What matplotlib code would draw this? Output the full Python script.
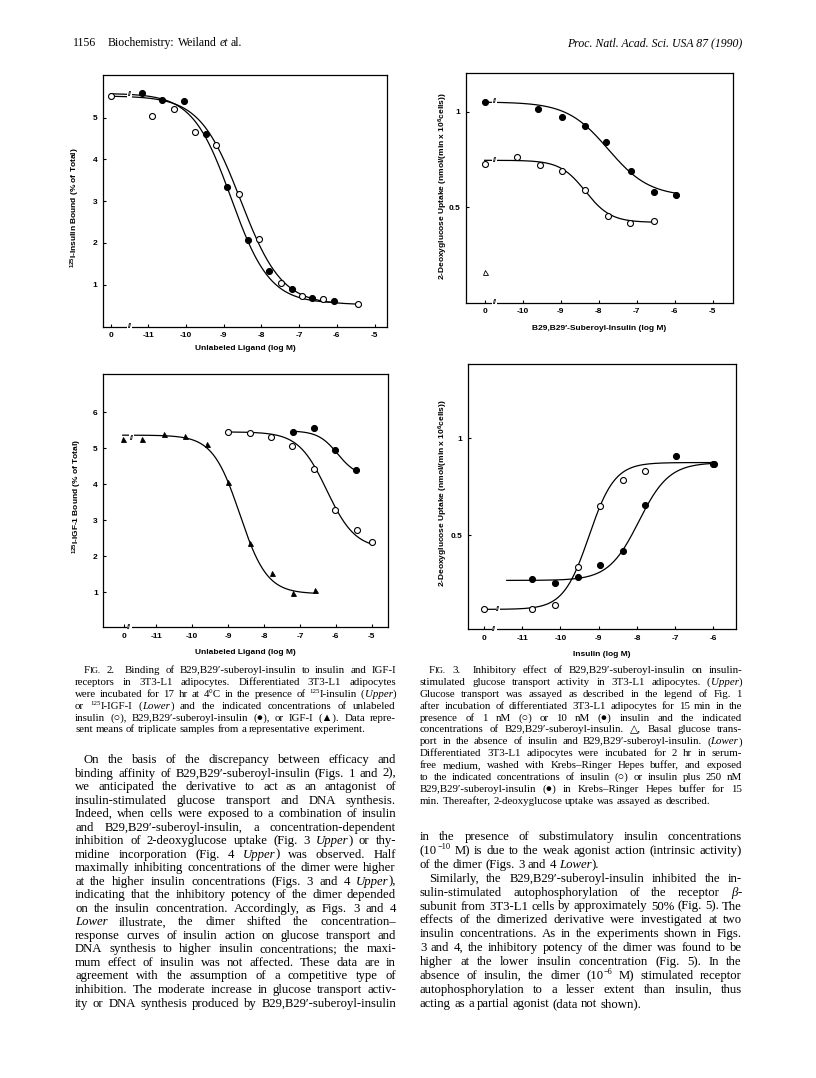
import numpy as np
import matplotlib
matplotlib.use("Agg")
import matplotlib.pyplot as plt

W, H = 816, 1078

plt.rcParams['font.family'] = ['Liberation Sans', 'DejaVu Sans']
plt.rcParams['mathtext.fontset'] = 'custom'
plt.rcParams['mathtext.rm'] = 'Liberation Sans:bold'
plt.rcParams['mathtext.it'] = 'Liberation Sans:bold'
plt.rcParams['mathtext.bf'] = 'Liberation Sans:bold'
SERIF = ['Liberation Serif', 'DejaVu Serif']

# ---------------- data (log M; the "0" concentration sits one decade left of the first tick)
# Fig. 2 upper: 125I-insulin binding
f2u_ins_x = [-12.0, -10.90, -10.33, -9.76, -9.21, -8.60, -8.07, -7.48, -6.92, -6.36, -5.43]
f2u_ins_y = [5.52, 5.04, 5.20, 4.66, 4.35, 3.17, 2.10, 1.04, 0.72, 0.66, 0.54]
f2u_sub_x = [-11.17, -10.63, -10.04, -9.47, -8.92, -8.35, -7.79, -7.20, -6.65, -6.08]
f2u_sub_y = [5.60, 5.42, 5.40, 4.60, 3.33, 2.06, 1.32, 0.90, 0.69, 0.61]
# fitted curves: top, bottom, log EC50, slope, from, to
f2u_ins_fit = [5.52, 0.52, -8.55, 0.8, -12.0, -5.43]
f2u_sub_fit = [5.58, 0.55, -8.80, 0.85, -12.0, -6.0]

# Fig. 2 lower: 125I-IGF-I binding
f2l_igf_x = [-11.93, -11.38, -10.77, -10.21, -9.59, -8.99, -8.38, -7.78, -7.18, -6.58]
f2l_igf_y = [5.25, 5.25, 5.38, 5.33, 5.12, 4.05, 2.35, 1.54, 0.98, 1.06]
f2l_ins_x = [-8.99, -8.39, -7.80, -7.21, -6.62, -6.02, -5.42, -5.0]
f2l_ins_y = [5.44, 5.41, 5.31, 5.06, 4.43, 3.28, 2.72, 2.40]
f2l_sub_x = [-7.18, -6.62, -6.03, -5.44]
f2l_sub_y = [5.46, 5.55, 4.94, 4.39]
f2l_igf_fit = [5.36, 0.95, -8.67, 1.15, -11.93, -6.58]
f2l_ins_fit = [5.45, 2.20, -6.25, 1.1, -8.99, -5.0]
f2l_sub_fit = [5.48, 4.20, -5.95, 1.6, -7.18, -5.44]

# Fig. 3 upper: uptake vs suberoyl-insulin
f3u_hi_x = [-11.0, -9.59, -8.96, -8.36, -7.81, -7.15, -6.56, -5.97]
f3u_hi_y = [1.052, 1.014, 0.971, 0.926, 0.839, 0.691, 0.578, 0.5625]
f3u_lo_x = [-11.0, -10.16, -9.54, -8.96, -8.37, -7.76, -7.17, -6.56]
f3u_lo_y = [0.728, 0.76, 0.72, 0.6875, 0.589, 0.453, 0.419, 0.427]
f3u_basal_x = [-11.0]
f3u_basal_y = [0.161]
f3u_hi_fit = [1.05, 0.555, -7.75, 0.8, -11.0, -5.97]
f3u_lo_fit = [0.745, 0.42, -8.35, 1.3, -11.0, -6.56]

# Fig. 3 lower: uptake vs insulin
f3l_ins_x = [-12.0, -10.73, -10.14, -9.55, -8.96, -8.37, -7.79, -6.0]
f3l_ins_y = [0.116, 0.116, 0.136, 0.336, 0.652, 0.785, 0.833, 0.865]
f3l_sub_x = [-10.75, -10.14, -9.55, -8.96, -8.37, -7.79, -6.98, -5.98]
f3l_sub_y = [0.271, 0.25, 0.281, 0.345, 0.417, 0.655, 0.91, 0.866]
f3l_ins_fit = [0.875, 0.115, -9.25, 1.3, -12.0, -6.0]
f3l_sub_fit = [0.875, 0.265, -7.95, 1.1, -11.4, -6.0]

fig = plt.figure(figsize=(W / 100, H / 100), dpi=100)
renderer = fig.canvas.get_renderer()


def fit_curve(p, rising=False):
    top, bottom, c, h, x0, x1 = p
    xs = np.linspace(x0, x1, 300)
    s = (c - xs) if rising else (xs - c)
    return xs, bottom + (top - bottom) / (1 + 10 ** (s * h))


def make_ax(box, xlim, ylim, xticks, xlabels, yticks, ylabels):
    l, t, r, b = box
    ax = fig.add_axes([l / W, 1 - b / H, (r - l) / W, (b - t) / H])
    ax.set_xlim(xlim)
    ax.set_ylim(ylim)
    ax.set_xticks(xticks)
    ax.set_xticklabels(xlabels, fontweight='bold', fontsize=6)
    ax.set_yticks(yticks)
    ax.set_yticklabels(ylabels, fontweight='bold', fontsize=6)
    ax.tick_params(direction='in', length=2.5, width=0.8, pad=4)
    for sp in ax.spines.values():
        sp.set_linewidth(0.9)
    return ax


def brk(ax, x, y=None):
    if y is None:
        ax.text(x, 0, '//', transform=ax.get_xaxis_transform(), ha='center', va='center',
                fontsize=5, fontweight='bold', bbox=dict(fc='white', ec='none', pad=0.3), zorder=5,
                clip_on=False)
    else:
        ax.text(x, y, '//', ha='center', va='center', fontsize=5, fontweight='bold',
                bbox=dict(fc='white', ec='none', pad=0.3), zorder=5)


LW = 0.9
open_kw = dict(marker='o', ls='none', ms=4.3, mfc='white', mec='black', mew=0.8, zorder=4)
fill_kw = dict(marker='o', ls='none', ms=4.3, mfc='black', mec='black', mew=0.8, zorder=4)
tri_kw = dict(marker='^', ls='none', ms=3.6, mfc='black', mec='black', mew=0.6, zorder=4)

# ---- Fig 2 upper
ax = make_ax((103, 75, 387, 326.5), (-12.2, -4.67), (0, 6.02),
             [-12, -11, -10, -9, -8, -7, -6, -5], ['0', '-11', '-10', '-9', '-8', '-7', '-6', '-5'],
             [1, 2, 3, 4, 5], ['1', '2', '3', '4', '5'])
ax.plot(*fit_curve(f2u_ins_fit), color='black', lw=LW)
ax.plot(*fit_curve(f2u_sub_fit), color='black', lw=LW)
ax.plot(f2u_ins_x, f2u_ins_y, **open_kw)
ax.plot(f2u_sub_x, f2u_sub_y, **fill_kw)
brk(ax, -11.49)
brk(ax, -11.49, 5.55)

# ---- Fig 2 lower
ax = make_ax((103.3, 374.3, 388.3, 627.3), (-12.47, -4.54), (0.02, 7.05),
             [-11.9, -11, -10, -9, -8, -7, -6, -5], ['0', '-11', '-10', '-9', '-8', '-7', '-6', '-5'],
             [1, 2, 3, 4, 5, 6], ['1', '2', '3', '4', '5', '6'])
ax.plot(*fit_curve(f2l_igf_fit), color='black', lw=LW)
ax.plot(*fit_curve(f2l_ins_fit), color='black', lw=LW)
ax.plot(*fit_curve(f2l_sub_fit), color='black', lw=LW)
ax.plot(f2l_igf_x, f2l_igf_y, **tri_kw)
ax.plot(f2l_ins_x, f2l_ins_y, **open_kw)
ax.plot(f2l_sub_x, f2l_sub_y, **fill_kw)
brk(ax, -11.75)
brk(ax, -11.68, 5.27)

# ---- Fig 3 upper
ax = make_ax((466, 73.3, 733, 302.7), (-11.49, -4.47), (0, 1.2),
             [-11, -10, -9, -8, -7, -6, -5], ['0', '-10', '-9', '-8', '-7', '-6', '-5'],
             [0.5, 1], ['0.5', '1'])
ax.plot(*fit_curve(f3u_hi_fit), color='black', lw=LW)
ax.plot(*fit_curve(f3u_lo_fit), color='black', lw=LW)
ax.plot(f3u_hi_x, f3u_hi_y, **fill_kw)
ax.plot(f3u_lo_x, f3u_lo_y, **open_kw)
ax.plot(f3u_basal_x, f3u_basal_y, marker='^', ls='none', ms=3.6, mfc='white', mec='black', mew=0.6)
brk(ax, -10.73)
brk(ax, -10.73, 1.05)
brk(ax, -10.73, 0.745)

# ---- Fig 3 lower
ax = make_ax((467.7, 364, 736, 629.3), (-12.42, -5.41), (0.012, 1.385),
             [-12, -11, -10, -9, -8, -7, -6], ['0', '-11', '-10', '-9', '-8', '-7', '-6'],
             [0.5, 1], ['0.5', '1'])
ax.plot(*fit_curve(f3l_ins_fit, rising=True), color='black', lw=LW)
ax.plot(*fit_curve(f3l_sub_fit, rising=True), color='black', lw=LW)
ax.plot(f3l_ins_x, f3l_ins_y, **open_kw)
ax.plot(f3l_sub_x, f3l_sub_y, **fill_kw)
brk(ax, -11.73)
brk(ax, -11.63, 0.115)

# ---- axis titles (pixel placed)
lab_kw = dict(fontsize=6, fontweight='bold', ha='center', va='center')
fig.text(245 / W, 1 - 348 / H, 'Unlabeled Ligand (log M)', **lab_kw)
fig.text(245 / W, 1 - 652 / H, 'Unlabeled Ligand (log M)', **lab_kw)
fig.text(599 / W, 1 - 329 / H, 'B29,B29\u2032-Suberoyl-Insulin (log M)', **lab_kw)
fig.text(602 / W, 1 - 655 / H, 'Insulin (log M)', **lab_kw)
fig.text(75 / W, 1 - 208 / H, '$^{125}$I-Insulin Bound (% of Total)', rotation=90, **lab_kw)
fig.text(77 / W, 1 - 497 / H, '$^{125}$I-IGF-1 Bound (% of Total)', rotation=90, **lab_kw)
fig.text(443 / W, 1 - 186 / H, '2-Deoxyglucose Uptake (nmol/(min x 10$^6$cells))', rotation=90, **lab_kw)
fig.text(443 / W, 1 - 493 / H, '2-Deoxyglucose Uptake (nmol/(min x 10$^6$cells))', rotation=90, **lab_kw)


# ---------------- page text
def parse(word):
    segs, buf = [], ''
    st = {'i': False, 'sup': False, 'sc': False}
    keys = {'*': 'i', '^': 'sup', '~': 'sc'}
    for ch in word:
        if ch in keys:
            if buf:
                segs.append((buf, dict(st)))
                buf = ''
            st[keys[ch]] = not st[keys[ch]]
        else:
            buf += ch
    if buf:
        segs.append((buf, dict(st)))
    return segs


def put_word(word, size):
    arts = []
    for txt, st in parse(word):
        fs = size * (0.65 if st['sup'] else 0.78 if st['sc'] else 1.0)
        t = fig.text(0, 0, txt, fontsize=fs, family=SERIF,
                     style='italic' if st['i'] else 'normal', va='baseline', ha='left')
        w = t.get_window_extent(renderer).width
        dy = size * 100 / 72 * 0.38 if st['sup'] else 0
        arts.append((t, w, dy))
    return arts


def set_line(line, x0, x1, y, size, indent=0, justify=True):
    words = line.split(' ')

    def build(sz):
        items = []
        for w in words:
            extra = 0
            if w.endswith('|'):
                w = w[:-1]
                extra = sz * 100 / 72 * 0.5
            arts = put_word(w, sz)
            items.append((arts, sum(a[1] for a in arts), extra))
        return items

    items = build(size)
    total = sum(i[1] + i[2] for i in items)
    em = size * 100 / 72
    avail = x1 - x0 - indent
    n = len(items)
    if n > 1 and (avail - total) / (n - 1) < 0.2 * em:
        # too tight: shrink this line a little
        for arts, _, _ in items:
            for t, _, _ in arts:
                t.remove()
        size = size * (avail - (n - 1) * 0.2 * em) / total
        items = build(size)
        total = sum(i[1] + i[2] for i in items)
        em = size * 100 / 72
    space = em * 0.25
    if justify and n > 1:
        space = (avail - total) / (n - 1)
    x = x0 + indent
    for arts, ww, extra in items:
        for t, w, dy in arts:
            t.set_position((x / W, 1 - (y - dy) / H))
            x += w
        x += extra + space


def set_block(lines, x0, x1, y0, dy, size):
    for k, ln in enumerate(lines):
        indent = 0
        justify = True
        if ln.startswith('>'):
            ln = ln[1:]
            indent = 9
        if ln.endswith('<'):
            ln = ln[:-1]
            justify = False
        set_line(ln, x0, x1, y0 + k * dy, size, indent, justify)


cap2 = [
    ">F~IG.~ 2.| Binding of B29,B29\u2032-suberoyl-insulin to insulin and IGF-I",
    "receptors in 3T3-L1 adipocytes. Differentiated 3T3-L1 adipocytes",
    "were incubated for 17 hr at 4\u00b0C in the presence of ^125^I-insulin (*Upper*)",
    "or ^125^I-IGF-I (*Lower*) and the indicated concentrations of unlabeled",
    "insulin (\u25cb), B29,B29\u2032-suberoyl-insulin (\u25cf), or IGF-I (\u25b2). Data repre-",
    "sent means of triplicate samples from a representative experiment.<",
]
body_left = [
    ">On the basis of the discrepancy between efficacy and",
    "binding affinity of B29,B29\u2032-suberoyl-insulin (Figs. 1 and 2),",
    "we anticipated the derivative to act as an antagonist of",
    "insulin-stimulated glucose transport and DNA synthesis.",
    "Indeed, when cells were exposed to a combination of insulin",
    "and B29,B29\u2032-suberoyl-insulin, a concentration-dependent",
    "inhibition of 2-deoxyglucose uptake (Fig. 3 *Upper*) or thy-",
    "midine incorporation (Fig. 4 *Upper*) was observed. Half",
    "maximally inhibiting concentrations of the dimer were higher",
    "at the higher insulin concentrations (Figs. 3 and 4 *Upper*),",
    "indicating that the inhibitory potency of the dimer depended",
    "on the insulin concentration. Accordingly, as Figs. 3 and 4",
    "*Lower* illustrate, the dimer shifted the concentration\u2013",
    "response curves of insulin action on glucose transport and",
    "DNA synthesis to higher insulin concentrations; the maxi-",
    "mum effect of insulin was not affected. These data are in",
    "agreement with the assumption of a competitive type of",
    "inhibition. The moderate increase in glucose transport activ-",
    "ity or DNA synthesis produced by B29,B29\u2032-suberoyl-insulin",
]
cap3 = [
    ">F~IG.~ 3.| Inhibitory effect of B29,B29\u2032-suberoyl-insulin on insulin-",
    "stimulated glucose transport activity in 3T3-L1 adipocytes. (*Upper*)",
    "Glucose transport was assayed as described in the legend of Fig. 1",
    "after incubation of differentiated 3T3-L1 adipocytes for 15 min in the",
    "presence of 1 nM (\u25cb) or 10 nM (\u25cf) insulin and the indicated",
    "concentrations of B29,B29\u2032-suberoyl-insulin. \u25b3, Basal glucose trans-",
    "port in the absence of insulin and B29,B29\u2032-suberoyl-insulin. (*Lower*)",
    "Differentiated 3T3-L1 adipocytes were incubated for 2 hr in serum-",
    "free medium, washed with Krebs\u2013Ringer Hepes buffer, and exposed",
    "to the indicated concentrations of insulin (\u25cb) or insulin plus 250 nM",
    "B29,B29\u2032-suberoyl-insulin (\u25cf) in Krebs\u2013Ringer Hepes buffer for 15",
    "min. Thereafter, 2-deoxyglucose uptake was assayed as described.<",
]
body_right = [
    "in the presence of substimulatory insulin concentrations",
    "(10^\u221210^ M) is due to the weak agonist action (intrinsic activity)",
    "of the dimer (Figs. 3 and 4 *Lower*).<",
    ">Similarly, the B29,B29\u2032-suberoyl-insulin inhibited the in-",
    "sulin-stimulated autophosphorylation of the receptor *\u03b2*-",
    "subunit from 3T3-L1 cells by approximately 50% (Fig. 5). The",
    "effects of the dimerized derivative were investigated at two",
    "insulin concentrations. As in the experiments shown in Figs.",
    "3 and 4, the inhibitory potency of the dimer was found to be",
    "higher at the lower insulin concentration (Fig. 5). In the",
    "absence of insulin, the dimer (10^\u22126^ M) stimulated receptor",
    "autophosphorylation to a lesser extent than insulin, thus",
    "acting as a partial agonist (data not shown).<",
]

set_block(cap2, 75, 396, 673, 11.9, 7.8)
set_block(body_left, 75, 396, 763, 13.53, 9.2)
set_block(cap3, 420, 742, 673, 11.9, 7.8)
set_block(body_right, 420, 742, 840, 13.9, 9.2)

# running head
fig.text(73 / W, 1 - 46 / H, '1156', family=SERIF, fontsize=8.5, va='baseline')
set_line("Biochemistry: Weiland *et al.*", 108, 400, 46, 8.5, justify=False)
fig.text(742 / W, 1 - 46 / H, 'Proc. Natl. Acad. Sci. USA 87 (1990)', family=SERIF,
         style='italic', fontsize=8.5, va='baseline', ha='right')

fig.savefig('out.png', dpi=100)
